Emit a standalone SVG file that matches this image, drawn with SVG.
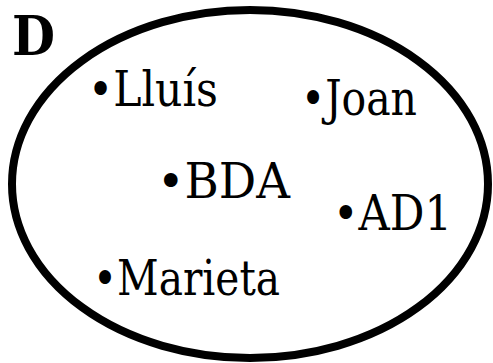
<svg xmlns="http://www.w3.org/2000/svg" width="493" height="363" viewBox="0 0 493 363">
<style>
.t{font-size:49px;fill:#000}
.d{font-size:55px;font-weight:bold;fill:#000}
</style>
<rect width="493" height="363" fill="#fff"/>
<g id="set-D">
<ellipse cx="250" cy="184" rx="238" ry="174" fill="none" stroke="#000" stroke-width="8"/>
<text class="d" x="12" y="55" font-family="DejaVu Serif" textLength="43" lengthAdjust="spacingAndGlyphs">D</text>
</g>
<g id="lluis"><text class="t" x="88" y="106" font-family="DejaVu Serif" textLength="130" lengthAdjust="spacingAndGlyphs">•Lluís</text></g>
<g id="joan"><text class="t" x="301" y="115" font-family="DejaVu Serif" textLength="116" lengthAdjust="spacingAndGlyphs">•Joan</text></g>
<g id="bda"><text class="t" x="157" y="198" font-family="DejaVu Serif" textLength="133" lengthAdjust="spacingAndGlyphs">•BDA</text></g>
<g id="ad1"><text class="t" x="333" y="230" font-family="DejaVu Serif" textLength="119" lengthAdjust="spacingAndGlyphs">•AD1</text></g>
<g id="marieta"><text class="t" x="93" y="295" font-family="DejaVu Serif" textLength="187" lengthAdjust="spacingAndGlyphs">•Marieta</text></g>
<g id="connectors"></g>
</svg>
